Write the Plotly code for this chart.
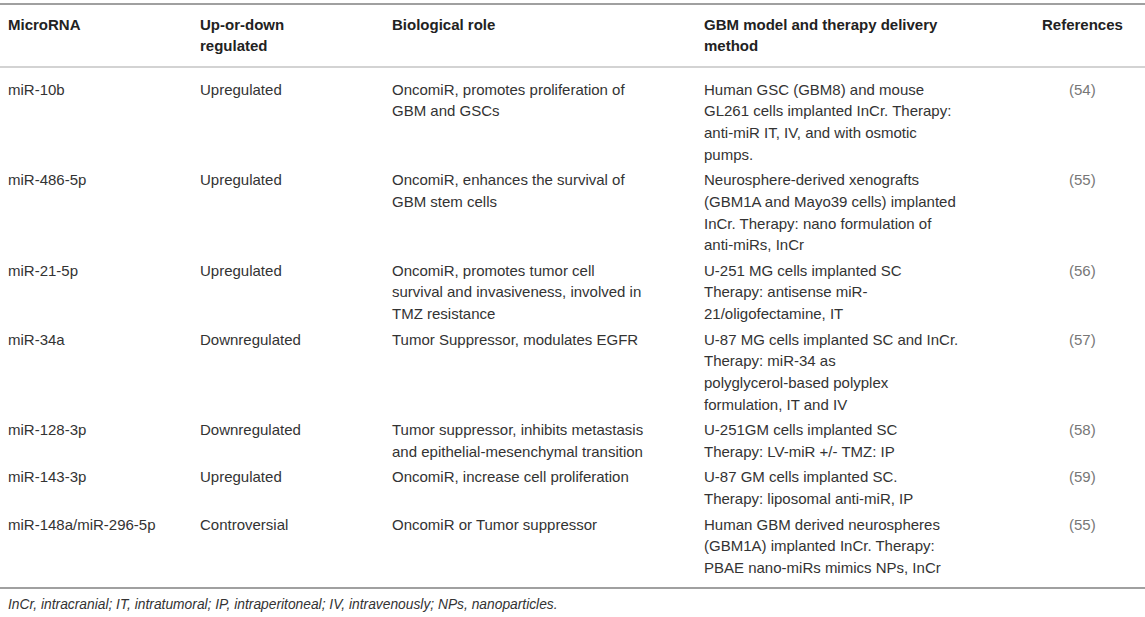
import plotly.graph_objects as go

# table content
headers = ["MicroRNA", "Up-or-down<br>regulated", "Biological role",
           "GBM model and therapy delivery<br>method", "References"]

mirnas = ["miR-10b", "miR-486-5p", "miR-21-5p", "miR-34a", "miR-128-3p",
          "miR-143-3p", "miR-148a/miR-296-5p"]
regulation = ["Upregulated", "Upregulated", "Upregulated", "Downregulated",
              "Downregulated", "Upregulated", "Controversial"]
roles = ["OncomiR, promotes proliferation of<br>GBM and GSCs",
         "OncomiR, enhances the survival of<br>GBM stem cells",
         "OncomiR, promotes tumor cell<br>survival and invasiveness, involved in<br>TMZ resistance",
         "Tumor Suppressor, modulates EGFR",
         "Tumor suppressor, inhibits metastasis<br>and epithelial-mesenchymal transition",
         "OncomiR, increase cell proliferation",
         "OncomiR or Tumor suppressor"]
models = ["Human GSC (GBM8) and mouse<br>GL261 cells implanted InCr. Therapy:<br>anti-miR IT, IV, and with osmotic<br>pumps.",
          "Neurosphere-derived xenografts<br>(GBM1A and Mayo39 cells) implanted<br>InCr. Therapy: nano formulation of<br>anti-miRs, InCr",
          "U-251 MG cells implanted SC<br>Therapy: antisense miR-<br>21/oligofectamine, IT",
          "U-87 MG cells implanted SC and InCr.<br>Therapy: miR-34 as<br>polyglycerol-based polyplex<br>formulation, IT and IV",
          "U-251GM cells implanted SC<br>Therapy: LV-miR +/- TMZ: IP",
          "U-87 GM cells implanted SC.<br>Therapy: liposomal anti-miR, IP",
          "Human GBM derived neurospheres<br>(GBM1A) implanted InCr. Therapy:<br>PBAE nano-miRs mimics NPs, InCr"]
refs = ["(54)", "(55)", "(56)", "(57)", "(58)", "(59)", "(55)"]

footnote = "InCr, intracranial; IT, intratumoral; IP, intraperitoneal; IV, intravenously; NPs, nanoparticles."

W, H = 1145, 617
col_x = [7, 199, 391, 703, 1082]
line_h = 21.7
row_step = 25.5
font = "Liberation Sans"

annotations = []


def add_cell(text, x, y0, color, size=15, center=False, bold=False, italic=False):
    for k, line in enumerate(text.split("<br>")):
        if bold:
            line = "<b>" + line + "</b>"
        if italic:
            line = "<i>" + line + "</i>"
        annotations.append(dict(
            x=x, y=y0 + k * line_h, xref="x", yref="y", text=line,
            showarrow=False, xanchor="center" if center else "left",
            yanchor="middle", borderpad=0,
            font=dict(family=font, size=size, color=color)))


for i, h in enumerate(headers):
    add_cell(h, col_x[i], 24, "#222222", center=(i == 4), bold=True)

columns = [mirnas, regulation, roles, models, refs]
y = 89
for r in range(len(mirnas)):
    n_lines = max(len(c[r].split("<br>")) for c in columns)
    for i, c in enumerate(columns):
        color = "#777777" if i == 4 else "#333333"
        add_cell(c[r], col_x[i], y, color, center=(i == 4))
    y += (n_lines - 1) * line_h + row_step

add_cell(footnote, 7, 604, "#333333", size=13.8, italic=True)

fig = go.Figure()
fig.add_trace(go.Scatter(x=[0, W], y=[0, H], mode="markers",
                         marker=dict(opacity=0), hoverinfo="skip",
                         showlegend=False))

shapes = [
    dict(type="line", xref="x", yref="y", x0=0, x1=W, y0=4, y1=4,
         line=dict(color="#a0a0a0", width=2)),
    dict(type="line", xref="x", yref="y", x0=0, x1=W, y0=67, y1=67,
         line=dict(color="#c4c4c4", width=1.5)),
    dict(type="line", xref="x", yref="y", x0=0, x1=W, y0=588, y1=588,
         line=dict(color="#a0a0a0", width=2)),
]

fig.update_layout(
    width=W, height=H, margin=dict(l=0, r=0, t=0, b=0),
    paper_bgcolor="white", plot_bgcolor="white",
    xaxis=dict(range=[0, W], visible=False, fixedrange=True),
    yaxis=dict(range=[H, 0], visible=False, fixedrange=True),
    annotations=annotations, shapes=shapes, showlegend=False,
)

# drop the default page margin so the table sits at the window's top-left
fig.write_html("out.html", config={"displayModeBar": False},
               post_script="document.body.style.margin = '0';")
